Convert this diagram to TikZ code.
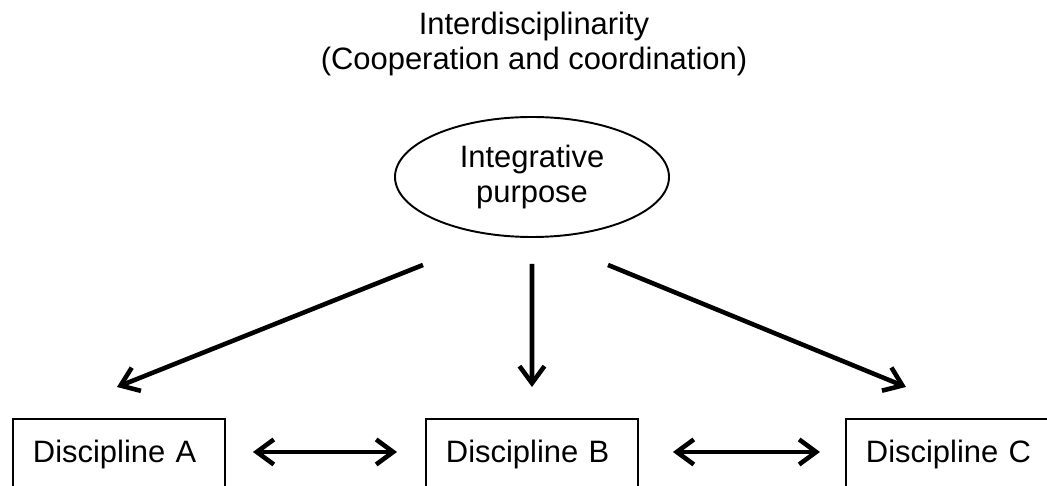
\documentclass[tikz,border=0pt]{standalone}
\usepackage{fontspec}
\setmainfont{Liberation Sans}
\usetikzlibrary{shapes.geometric,arrows.meta,positioning}

\begin{document}
\begin{tikzpicture}[
	every node/.style={font=\fontsize{17.6pt}{19.9pt}\selectfont},
	discbox/.style={draw,line width=1.1pt,minimum height=1.44cm,text width=3.44cm,
		align=left,inner xsep=0.4cm,anchor=north west},
	flow/.style={line width=2.6pt,-{Straight Barb[length=0.34cm,width=0.5cm]}},
	mutual/.style={line width=2.6pt,{Straight Barb[length=0.34cm,width=0.5cm]}-{Straight Barb[length=0.34cm,width=0.5cm]}},
	]

\useasboundingbox (0,0) rectangle (20.94,9.70);
\clip (0,0) rectangle (20.94,9.70);

% The heading
\node[align=center,anchor=north,inner sep=0pt] (heading) at (10.68,9.46)
	{Interdisciplinarity\\(Cooperation and coordination)};

% The shared purpose
\node[ellipse,draw,line width=1.1pt,minimum width=5.48cm,minimum height=2.4cm,
	inner sep=0pt,align=center] (purpose) at (10.64,6.16) {Integrative\\purpose};

% The disciplines
\node[discbox] (discA) at (0.24,1.34) {Discipline A};
\node[discbox] (discB) at (8.50,1.34) {Discipline B};
\node[discbox] (discC) at (16.90,1.34) {Discipline C};

% From the purpose down to each discipline
\draw[flow] ([xshift=-2.18cm,yshift=-0.54cm]purpose.south) -- ([xshift=-0.04cm,yshift=0.62cm]discA.north);
\draw[flow] ([yshift=-0.52cm]purpose.south) -- ([yshift=0.62cm]discB.north);
\draw[flow] ([xshift=1.52cm,yshift=-0.54cm]purpose.south) -- ([xshift=-0.92cm,yshift=0.62cm]discC.north);

% Between the disciplines
\draw[mutual,shorten <=0.54cm,shorten >=0.56cm] ([yshift=0.06cm]discA.east) -- ([yshift=0.06cm]discB.west);
\draw[mutual,shorten <=0.68cm,shorten >=0.5cm] ([yshift=0.06cm]discB.east) -- ([yshift=0.06cm]discC.west);

\end{tikzpicture}
\end{document}
